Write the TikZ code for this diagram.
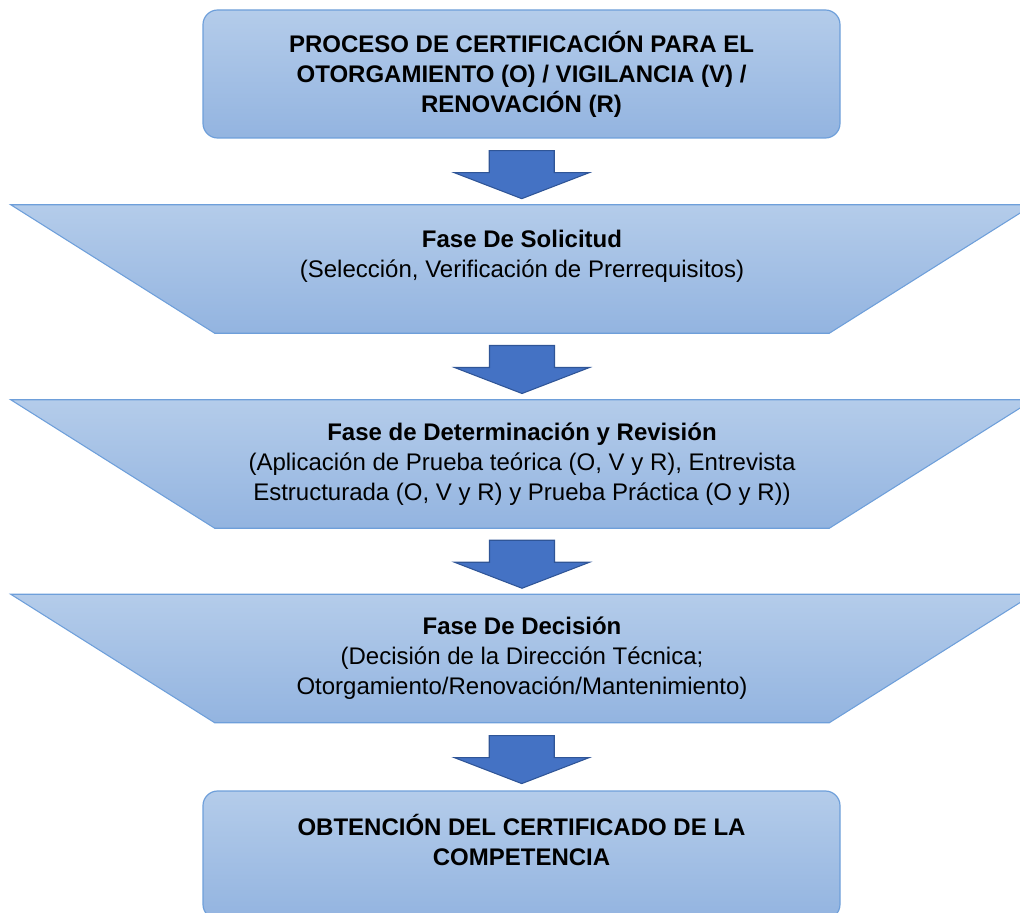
\documentclass[tikz,border=0pt]{standalone}
\usepackage{fontspec}
\setmainfont{Liberation Sans}
\usetikzlibrary{calc,backgrounds}

\definecolor{fondoA}{HTML}{B4CCEA}
\definecolor{fondoB}{HTML}{93B4E0}
\definecolor{borde}{HTML}{6E9FDA}
\definecolor{flechaA}{HTML}{4472C4}
\definecolor{flechaB}{HTML}{2F5597}

\tikzset{
    relleno/.style={draw=borde, top color=fondoA, bottom color=fondoB},
    caja/.style={rectangle, rounded corners=11pt, relleno, line width=0.9pt,
        minimum width=477.75pt, minimum height=96pt,
        align=center, font=\bfseries\fontsize{18}{22.5}\selectfont},
    fase/.style={rectangle, minimum width=460.5pt, minimum height=96pt,
        align=center, font=\fontsize{18}{22.5}\selectfont},
    flecha/.style={draw=flechaB, fill=flechaA, line width=0.8pt,
        to path={($(\tikztostart)!0.5!(\tikztotarget)+(-32.5,21)$) -- ++(65,0) -- ++(0,-22) -- ++(35,0)
            -- ++(-67.5,-26) -- ++(-67.5,26) -- ++(35,0) -- cycle}}
}

\begin{document}
\begin{tikzpicture}[x=0.75pt, y=0.75pt]
    \useasboundingbox (0,0) rectangle (1020,-913);

    \node[caja] (inicio) at (521.5,-74) {PROCESO DE CERTIFICACIÓN PARA EL\\OTORGAMIENTO (O) / VIGILANCIA (V) /\\RENOVACIÓN (R)};

    \node[fase] (solicitud) at (522,-269) {\textbf{Fase De Solicitud}\\(Selección, Verificación de Prerrequisitos)\\\mbox{}};
    \node[fase] (revision) at (522,-464) {\textbf{Fase de Determinación y Revisión}\\(Aplicación de Prueba teórica (O, V y R), Entrevista\\Estructurada (O, V y R) y Prueba Práctica (O y R))};
    \node[fase] (decision) at (522,-658.5) {\textbf{Fase De Decisión}\\(Decisión de la Dirección Técnica;\\Otorgamiento/Renovación/Mantenimiento)};

    \node[caja] (certificado) at (521.5,-855) {OBTENCIÓN DEL CERTIFICADO DE LA\\COMPETENCIA\\\mbox{}};

    \begin{scope}[on background layer]
        \foreach \n in {solicitud,revision,decision}
            \path[relleno, line width=0.8pt] ($(\n.north west)+(-204,0)$) -- ($(\n.north east)+(204,0)$)
                -- (\n.south east) -- (\n.south west) -- cycle;
    \end{scope}

    \draw[flecha] (inicio.south) to (solicitud.north);
    \draw[flecha] (solicitud.south) to (revision.north);
    \draw[flecha] (revision.south) to (decision.north);
    \draw[flecha] (decision.south) to (certificado.north);
\end{tikzpicture}
\end{document}
